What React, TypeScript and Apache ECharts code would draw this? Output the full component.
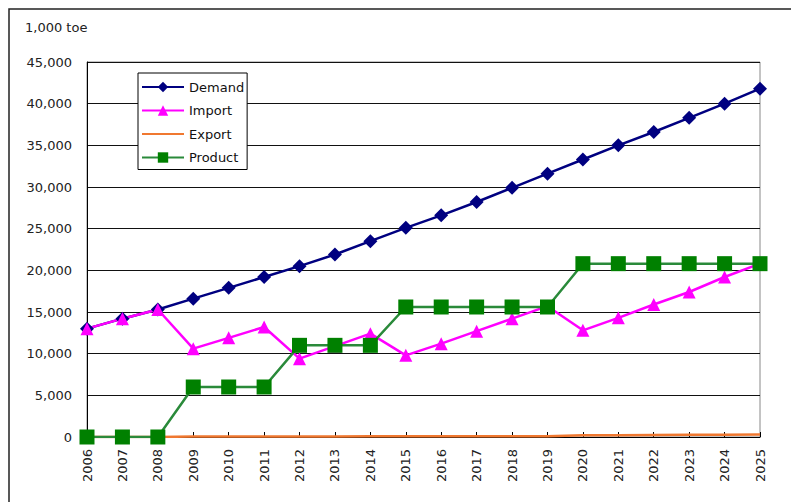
import React, { useEffect, useRef } from "react";
import * as echarts from "echarts";

const years = ["2006","2007","2008","2009","2010","2011","2012","2013","2014","2015","2016","2017","2018","2019","2020","2021","2022","2023","2024","2025"];
const demand = [13000,14200,15300,16600,17900,19200,20500,21900,23500,25100,26600,28200,29900,31600,33300,35000,36600,38300,40000,41800];
const importVals = [13000,14200,15300,10600,11900,13200,9400,10900,12400,9800,11200,12700,14200,15700,12800,14300,15900,17400,19200,20800];
const exportVals = [0,0,0,50,50,50,50,50,80,100,100,100,100,100,200,220,240,260,280,300];
const product = [0,0,0,6000,6000,6000,11000,11000,11000,15600,15600,15600,15600,15600,20800,20800,20800,20800,20800,20800];
const seriesNames = ["Demand", "Import", "Export", "Product"];
const unitLabel = "1,000 toe";

const FONT = "DejaVu Sans";

export default function App() {
  const ref = useRef<HTMLDivElement>(null);
  useEffect(() => {
    document.body.style.margin = "0";
    const chart = echarts.init(ref.current!, null, { renderer: "svg" });
    chart.setOption({
      animation: false,
      backgroundColor: "#ffffff",
      textStyle: { fontFamily: FONT },
      graphic: [
        {
          type: "rect",
          shape: { x: 9, y: 9, width: 820, height: 520 },
          style: { fill: "none", stroke: "#222", lineWidth: 1.5 },
          silent: true,
        },
        {
          type: "text",
          x: 25,
          y: 21,
          style: { text: unitLabel, fontSize: 13, fill: "#222", fontFamily: FONT },
        },
      ],
      grid: {
        left: 87,
        top: 62,
        width: 673,
        height: 375,
        show: true,
        borderColor: "#888",
        borderWidth: 1,
      },
      legend: {
        left: 138,
        top: 73,
        orient: "vertical",
        data: [
          seriesNames[0],
          seriesNames[1],
          { name: seriesNames[2], itemStyle: { opacity: 0 } },
          seriesNames[3],
        ],
        backgroundColor: "#fff",
        borderColor: "#000",
        borderWidth: 1,
        borderRadius: 0,
        padding: [6, 3, 4, 3],
        itemGap: 7.5,
        itemWidth: 42,
        itemHeight: 13,
        textStyle: { fontSize: 13, color: "#111", fontFamily: FONT, lineHeight: 16 },
      },
      xAxis: {
        type: "category",
        data: years,
        boundaryGap: false,
        axisLine: { show: true, lineStyle: { color: "#000", width: 1 } },
        axisTick: { show: true, inside: true, length: 5, alignWithLabel: true, lineStyle: { color: "#000" } },
        axisLabel: { rotate: 90, fontSize: 13, color: "#222", margin: 12, interval: 0, fontFamily: FONT },
        splitLine: { show: false },
      },
      yAxis: {
        type: "value",
        min: 0,
        max: 45000,
        interval: 5000,
        axisLine: { show: true, lineStyle: { color: "#000", width: 1 } },
        axisTick: { show: false },
        axisLabel: {
          fontSize: 13,
          color: "#222",
          margin: 15,
          fontFamily: FONT,
          formatter: (v: number) => v.toLocaleString("en-US"),
        },
        splitLine: { show: true, lineStyle: { color: "#111", width: 1 } },
      },
      series: [
        {
          name: seriesNames[0],
          type: "line",
          data: demand,
          symbol: "diamond",
          symbolSize: 14,
          lineStyle: { color: "#000080", width: 2.5 },
          itemStyle: { color: "#000080" },
        },
        {
          name: seriesNames[1],
          type: "line",
          data: importVals,
          symbol: "triangle",
          symbolSize: 13,
          lineStyle: { color: "#ff00ff", width: 2.5 },
          itemStyle: { color: "#ff00ff" },
        },
        {
          name: seriesNames[2],
          type: "line",
          data: exportVals,
          symbol: "none",
          lineStyle: { color: "#f07830", width: 2.5 },
          itemStyle: { color: "#f07830" },
        },
        {
          name: seriesNames[3],
          type: "line",
          data: product,
          symbol: "rect",
          symbolSize: 15,
          lineStyle: { color: "#2a8a3a", width: 2.5 },
          itemStyle: { color: "#008000" },
        },
      ],
    });
    return () => chart.dispose();
  }, []);
  return <div ref={ref} style={{ position: "absolute", left: 0, top: 0, width: 791, height: 502 }} />;
}
